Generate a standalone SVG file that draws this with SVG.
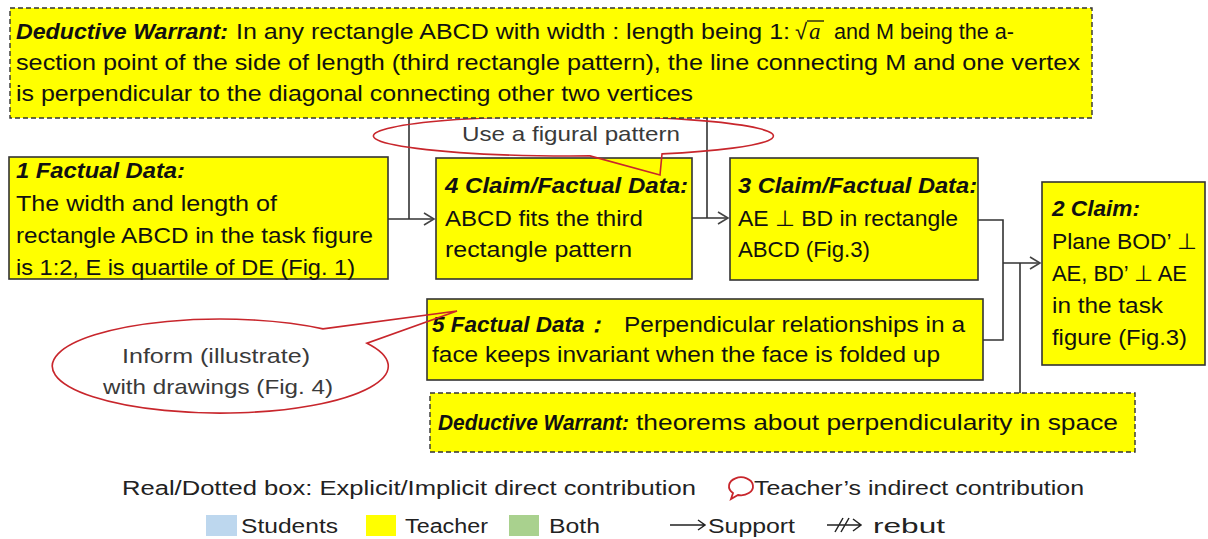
<svg xmlns="http://www.w3.org/2000/svg" width="1208" height="539" viewBox="0 0 1208 539">
<defs>
<style>
.t{font-family:"Liberation Sans",Arial,sans-serif;font-size:22px;fill:#111}
.h{font-weight:bold;font-style:italic}
.box{fill:#ffff00;stroke:#333;stroke-width:1.6}
.dash{fill:#ffff00;stroke:#333;stroke-width:1.4;stroke-dasharray:5 3}
.con{fill:none;stroke:#333;stroke-width:1.6}
.bub{fill:none;stroke:#c8262c;stroke-width:1.6}
.bt{font-family:"Liberation Sans",Arial,sans-serif;font-size:21px;fill:#3a3a3a}
.lg{font-family:"Liberation Sans",Arial,sans-serif;font-size:20px;fill:#222}
</style>
<marker id="arr" markerWidth="14" markerHeight="16" refX="12" refY="8" orient="auto" markerUnits="userSpaceOnUse">
<path d="M2,2 L12,8 L2,14" fill="none" stroke="#444" stroke-width="1.6"/>
</marker>
</defs>
<rect width="1208" height="539" fill="#fff"/>

<g id="connectors" class="con">
<path d="M388,219 H434" marker-end="url(#arr)"/>
<path d="M409,118 V219"/>
<path d="M692,218 H728" marker-end="url(#arr)"/>
<path d="M707,118 V218"/>
<path d="M978,220 H1003 V340 H983"/>
<path d="M1003,263 H1040" marker-end="url(#arr)"/>
<path d="M1020,263 V393"/>
</g>

<g id="node1">
<rect class="box" x="9" y="157" width="379" height="122"/>
<text class="t h" x="16" y="178" textLength="169" lengthAdjust="spacingAndGlyphs">1 Factual Data:</text>
<text class="t" x="16" y="211" textLength="261" lengthAdjust="spacingAndGlyphs">The width and length of</text>
<text class="t" x="16" y="243" textLength="357" lengthAdjust="spacingAndGlyphs">rectangle ABCD in the task figure</text>
<text class="t" x="16" y="275" textLength="339" lengthAdjust="spacingAndGlyphs">is 1:2, E is quartile of DE (Fig. 1)</text>
</g>

<g id="node4">
<rect class="box" x="436" y="158" width="256" height="121"/>
<text class="t h" x="445" y="193" textLength="243" lengthAdjust="spacingAndGlyphs">4 Claim/Factual Data:</text>
<text class="t" x="445" y="226" textLength="198" lengthAdjust="spacingAndGlyphs">ABCD fits the third</text>
<text class="t" x="445" y="257" textLength="187" lengthAdjust="spacingAndGlyphs">rectangle pattern</text>
</g>

<g id="node3">
<rect class="box" x="730" y="158" width="248" height="122"/>
<text class="t h" x="738" y="193" textLength="239" lengthAdjust="spacingAndGlyphs">3 Claim/Factual Data:</text>
<text class="t" x="738" y="226" textLength="220" lengthAdjust="spacingAndGlyphs">AE ⊥ BD in rectangle</text>
<text class="t" x="738" y="257" textLength="132" lengthAdjust="spacingAndGlyphs">ABCD (Fig.3)</text>
</g>

<g id="node2">
<rect class="box" x="1042" y="182" width="163" height="183"/>
<text class="t h" x="1052" y="216" textLength="88" lengthAdjust="spacingAndGlyphs">2 Claim:</text>
<text class="t" x="1052" y="249" textLength="145" lengthAdjust="spacingAndGlyphs">Plane BOD’ ⊥</text>
<text class="t" x="1052" y="281" textLength="135" lengthAdjust="spacingAndGlyphs">AE, BD’ ⊥ AE</text>
<text class="t" x="1052" y="313" textLength="111" lengthAdjust="spacingAndGlyphs">in the task</text>
<text class="t" x="1052" y="345" textLength="135" lengthAdjust="spacingAndGlyphs">figure (Fig.3)</text>
</g>

<g id="node5">
<rect class="box" x="427" y="299" width="556" height="81"/>
<text class="t h" x="432" y="332" textLength="175" lengthAdjust="spacingAndGlyphs">5 Factual Data：</text>
<text class="t" x="624" y="332" textLength="341" lengthAdjust="spacingAndGlyphs">Perpendicular relationships in a</text>
<text class="t" x="432" y="362" textLength="508" lengthAdjust="spacingAndGlyphs">face keeps invariant when the face is folded up</text>
</g>

<g id="warrant2">
<rect class="dash" x="430" y="393" width="705" height="59"/>
<text class="t h" x="438" y="430" textLength="191" lengthAdjust="spacingAndGlyphs">Deductive Warrant:</text>
<text class="t" x="636" y="430" textLength="482" lengthAdjust="spacingAndGlyphs">theorems about perpendicularity in space</text>
</g>

<g id="bubble1">
<path class="bub" d="M662,153.9 A200,20 0 1 0 590,155.9 L660,175 Z"/>
<text class="bt" x="462" y="141" textLength="218" lengthAdjust="spacingAndGlyphs">Use a figural pattern</text>
</g>

<g id="bubble2">
<path class="bub" d="M323,328.9 A168,47 0 1 0 367,343.2 L457,311 Z"/>
<text class="bt" x="122" y="363" textLength="188" lengthAdjust="spacingAndGlyphs">Inform (illustrate)</text>
<text class="bt" x="103" y="394" textLength="230" lengthAdjust="spacingAndGlyphs">with drawings (Fig. 4)</text>
</g>

<g id="warrant1">
<rect class="dash" x="10" y="8" width="1082" height="110"/>
<text class="t h" x="16" y="39" textLength="212" lengthAdjust="spacingAndGlyphs">Deductive Warrant:</text>
<text class="t" x="236" y="39" textLength="554" lengthAdjust="spacingAndGlyphs">In any rectangle ABCD with width : length being 1:</text>
<text class="t" x="795" y="39">√</text>
<text x="809" y="39" style="font-family:'Liberation Serif',serif;font-style:italic;font-size:23px;fill:#111">a</text>
<line x1="807" y1="21" x2="824" y2="21" stroke="#111" stroke-width="1.3"/>
<text class="t" x="834" y="39" textLength="180" lengthAdjust="spacingAndGlyphs">and M being the a-</text>
<text class="t" x="16" y="70" textLength="1064" lengthAdjust="spacingAndGlyphs">section point of  the side of length (third rectangle pattern), the line connecting M and one vertex</text>
<text class="t" x="16" y="101" textLength="677" lengthAdjust="spacingAndGlyphs">is perpendicular to the diagonal connecting other two vertices</text>
</g>

<g id="legend">
<text class="lg" x="122" y="495" textLength="574" lengthAdjust="spacingAndGlyphs">Real/Dotted box: Explicit/Implicit direct contribution</text>
<path d="M731,499 L733,493 A12,9 0 1 1 738,495 Z" fill="none" stroke="#c8262c" stroke-width="1.8"/>
<text class="lg" x="754" y="495" textLength="330" lengthAdjust="spacingAndGlyphs">Teacher’s indirect contribution</text>
<rect x="206" y="515" width="31" height="21" fill="#bdd7ee"/>
<text class="lg" x="241" y="533" textLength="97" lengthAdjust="spacingAndGlyphs">Students</text>
<rect x="366" y="515" width="30" height="21" fill="#ffff00"/>
<text class="lg" x="405" y="533" textLength="83" lengthAdjust="spacingAndGlyphs">Teacher</text>
<rect x="509" y="515" width="30" height="21" fill="#a9d18e"/>
<text class="lg" x="549" y="533" textLength="51" lengthAdjust="spacingAndGlyphs">Both</text>
<path d="M670,525 H705 M698,520 L705,525 L698,530" fill="none" stroke="#222" stroke-width="1.5"/>
<text class="lg" x="708" y="533" textLength="87" lengthAdjust="spacingAndGlyphs">Support</text>
<path d="M827,525 H861 M853,519 L861,525 L853,531 M835,532 L843,518 M841,532 L849,518" fill="none" stroke="#222" stroke-width="1.5"/>
<text class="lg" x="873" y="533" textLength="72" lengthAdjust="spacingAndGlyphs">rebut</text>
</g>
</svg>
